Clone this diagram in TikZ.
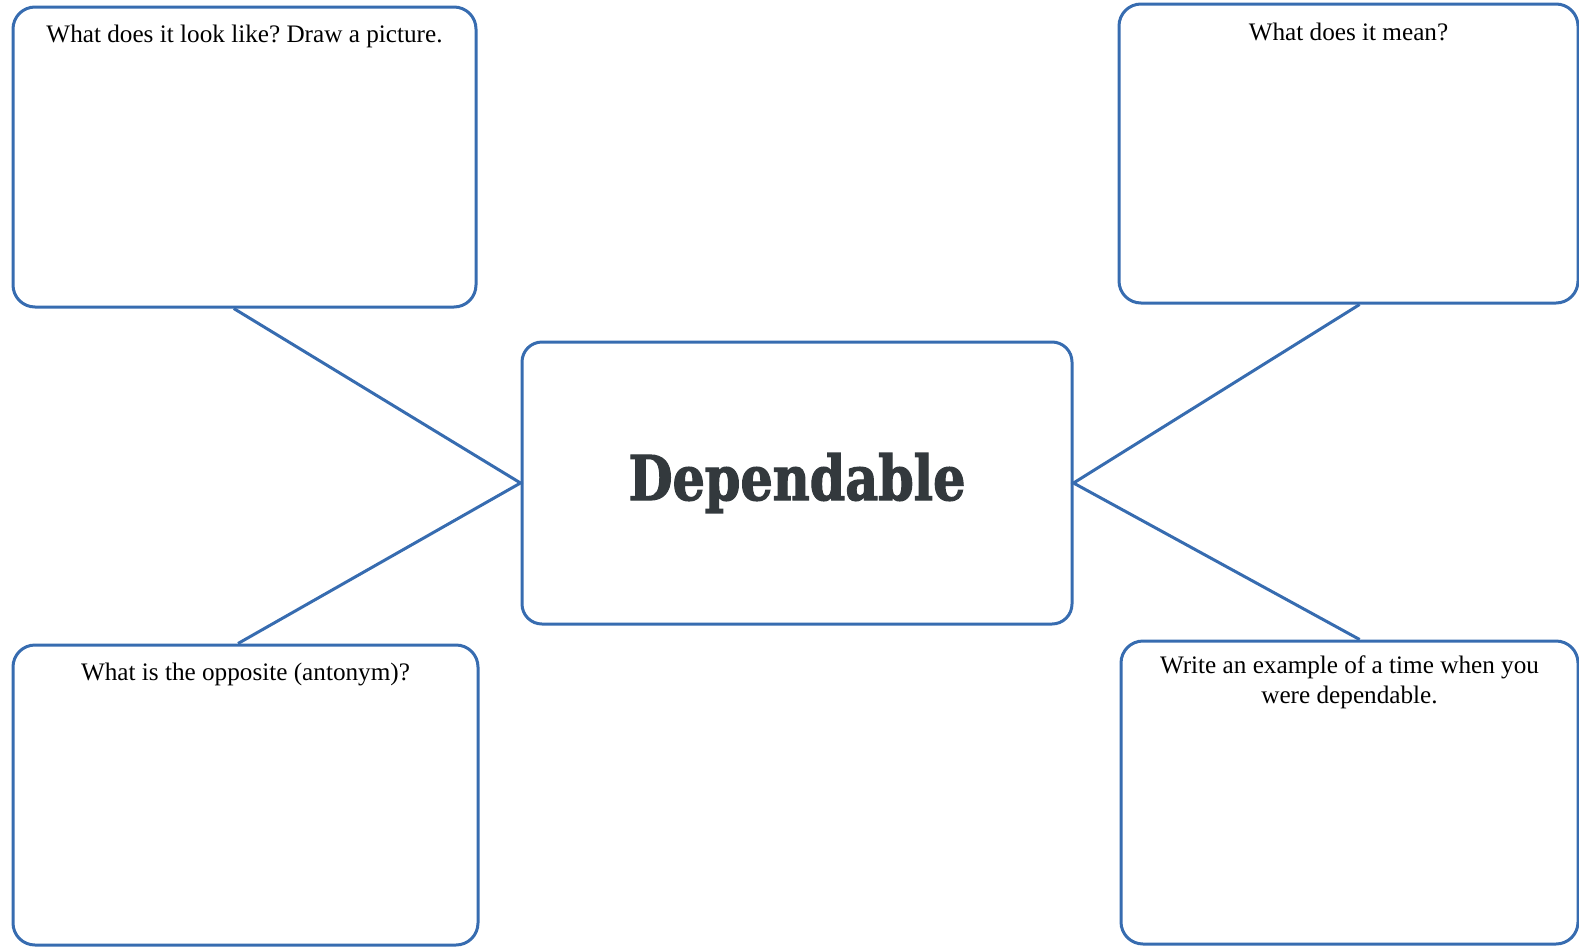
\documentclass[tikz,border=0pt]{standalone}
\usepackage{fontspec}
\setmainfont{Liberation Serif}
\newfontfamily\headfont{DejaVu Serif Condensed Bold}[FakeBold=2]
\usetikzlibrary{calc}
\definecolor{boxblue}{RGB}{55,108,176}
\definecolor{headgray}{RGB}{51,57,61}
\frenchspacing
\begin{document}
\begin{tikzpicture}[x=1pt,y=-1pt,
  box/.style={draw=boxblue, line width=3pt, rounded corners=22pt, rectangle, inner sep=0pt},
  conn/.style={draw=boxblue, line width=3pt},
  prompt/.style={font=\fontsize{25.2}{30}\selectfont, text height=17pt, text depth=6pt, inner sep=0pt, align=center, anchor=north}]
\useasboundingbox (0,0) rectangle (1579,948);
\node[box, minimum width=463pt, minimum height=300pt,
  label={[prompt, yshift=-20pt]north:What does it look like? Draw a picture.}] (tl) at (244.5,157) {};
\node[box, minimum width=459pt, minimum height=299pt,
  label={[prompt, yshift=-21pt]north:What does it mean?}] (tr) at (1348.5,153.5) {};
\node[box, minimum width=465pt, minimum height=300pt,
  label={[prompt, yshift=-20pt]north:What is the opposite (antonym)?}] (bl) at (245.5,795) {};
\node[box, minimum width=457pt, minimum height=303pt,
  label={[prompt, yshift=-47pt]north:Write an example of a time when you\\were dependable.}] (br) at (1349.5,792.5) {};
\node[box, rounded corners=20pt, minimum width=550pt, minimum height=282pt,
  text=headgray, font=\headfont] (c) at (797,483) {\resizebox{337pt}{47pt}{Dependable}};
\draw[conn] ($(tl.south west)!0.477!(tl.south east)$) -- (c.west) -- ($(bl.north west)!0.484!(bl.north east)$);
\draw[conn] ($(tr.south west)!0.524!(tr.south east)$) -- (c.east) -- ($(br.north west)!0.522!(br.north east)$);
\end{tikzpicture}
\end{document}
